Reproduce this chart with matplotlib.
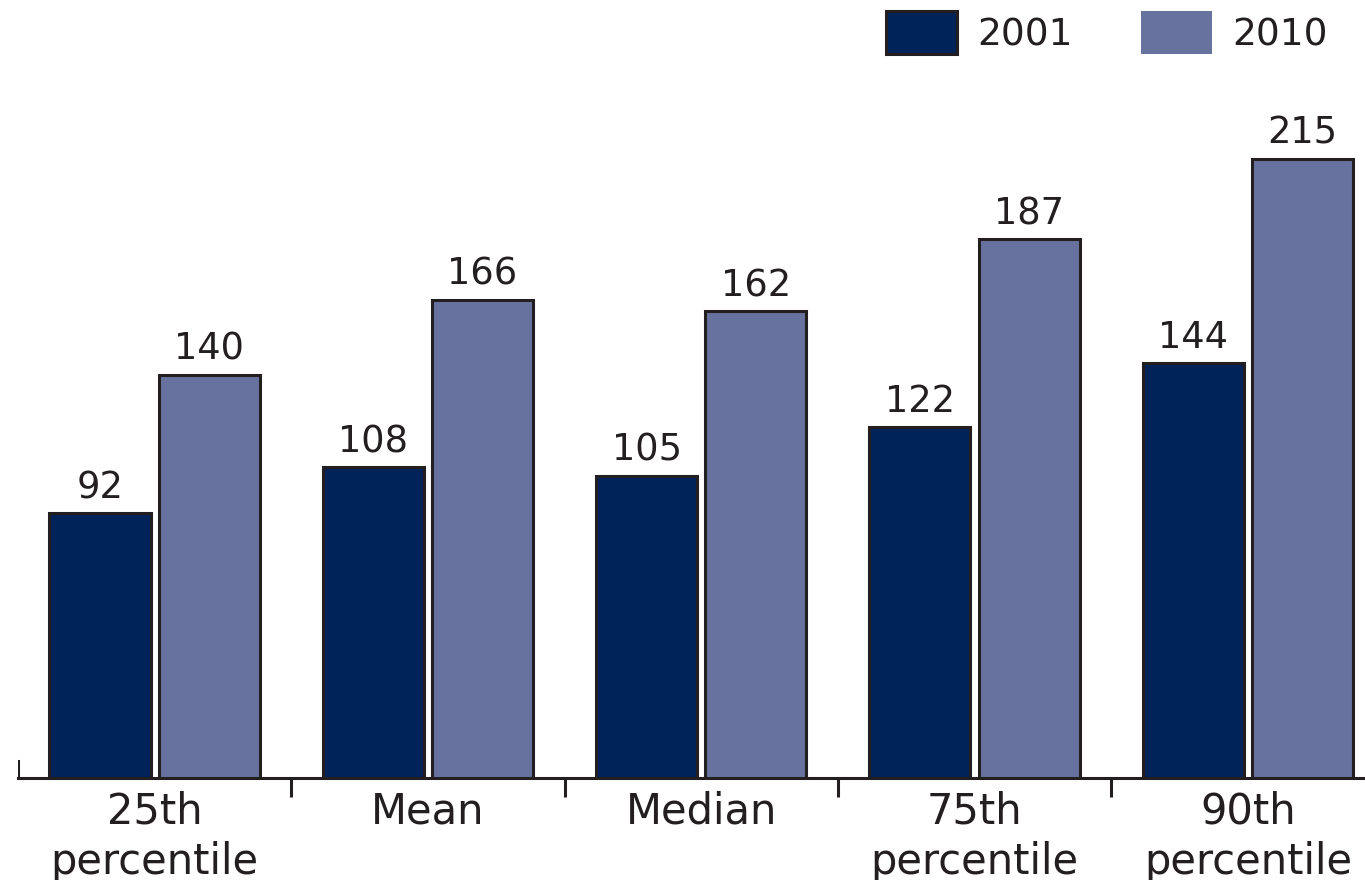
import matplotlib
matplotlib.use("Agg")
import matplotlib.pyplot as plt
from matplotlib.patches import Patch
import numpy as np

categories = ["25th\npercentile", "Mean", "Median", "75th\npercentile", "90th\npercentile"]
series_names = ["2001", "2010"]
values_2001 = [92, 108, 105, 122, 144]
values_2010 = [140, 166, 162, 187, 215]

dark = "#00235a"
light = "#67729e"
ink = "#231f20"

plt.rcParams['font.family'] = ['DejaVu Sans']

W, H = 1365, 880
fig = plt.figure(figsize=(W / 100, H / 100), dpi=100)
ax_left = 18 / W
ax_bottom = (H - 778) / H
ax_top = 100
ax = fig.add_axes([ax_left, ax_bottom, 1 - ax_left, (778 - ax_top) / H])

x = np.arange(len(categories))
bw = 0.37
off = 0.2
b1 = ax.bar(x - off, values_2001, bw, color=dark, edgecolor=ink, linewidth=2.2, zorder=3)
b2 = ax.bar(x + off, values_2010, bw, color=light, edgecolor=ink, linewidth=2.2, zorder=3)

for bars, vals in ((b1, values_2001), (b2, values_2010)):
    for r, v in zip(bars, vals):
        ax.annotate(str(v), (r.get_x() + r.get_width() / 2, v), xytext=(0, 5),
                    textcoords="offset points", ha="center", va="bottom",
                    fontsize=26.5, color=ink, fontweight="medium")

ax.set_xlim(-0.5, -0.5 + (W - 18) / 273.3)
ax.set_ylim(0, (778 - ax_top) / 2.88)

for s in ("left", "right", "top"):
    ax.spines[s].set_visible(False)
ax.spines["bottom"].set_color(ink)
ax.spines["bottom"].set_linewidth(2.2)
ax.set_yticks([])

ax.set_xticks(x)
ax.set_xticklabels(categories, fontsize=30, color=ink, linespacing=1.25)
ax.tick_params(axis="x", which="major", length=0, pad=9)
ax.set_xticks(np.arange(len(categories) - 1) + 0.5, minor=True)
ax.tick_params(axis="x", which="minor", length=14, width=2.2, color=ink, direction="out")
ax.axvline(-0.5, ymin=0, ymax=17 / (778 - ax_top), color=ink, linewidth=2.2)

handles = [Patch(facecolor=dark, edgecolor=ink, linewidth=2.2),
           Patch(facecolor=light, edgecolor="none")]
fig.legend(handles, series_names, loc="upper right",
           bbox_to_anchor=(1328 / W, 1 - 11 / H), ncol=2, frameon=False,
           fontsize=27, handlelength=1.9, handleheight=1.4, handletextpad=0.55,
           columnspacing=1.8, borderpad=0, borderaxespad=0, labelcolor=ink)

fig.savefig("out.png", dpi=100)
